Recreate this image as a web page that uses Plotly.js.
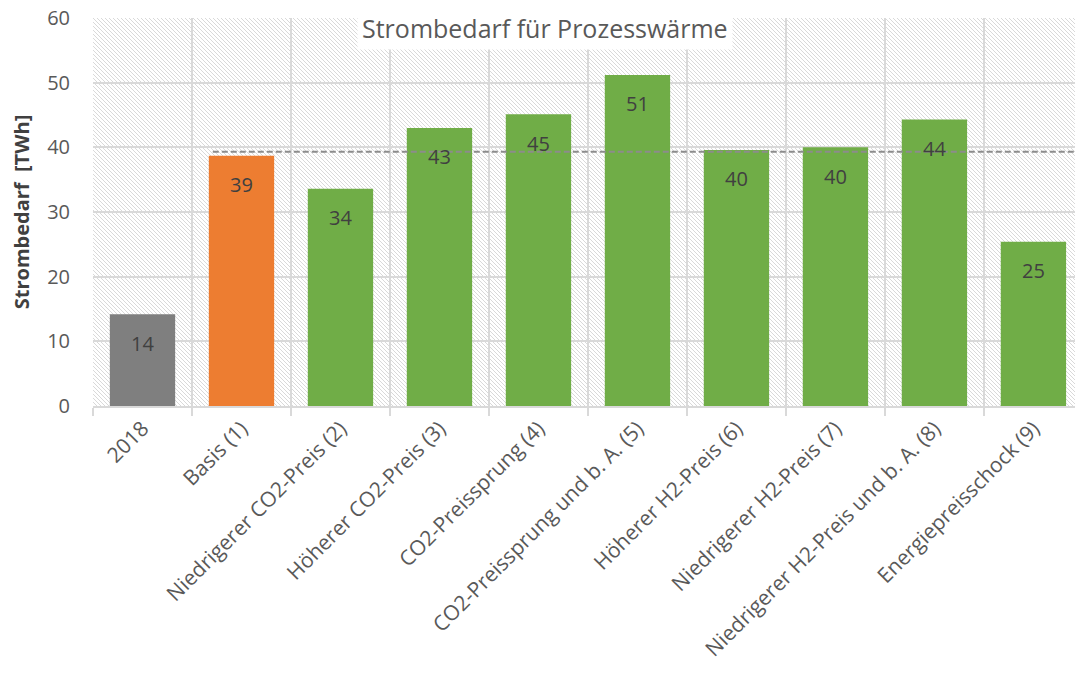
<!DOCTYPE html>
<html>
<head>
<meta charset="utf-8">
<script src="https://cdn.plot.ly/plotly-3.0.1.min.js"></script>
<style>html,body{margin:0;padding:0;background:#fff;}#chart{width:1075px;height:682px;}</style>
</head>
<body>
<div id="chart"></div>
<script>
// ---- data ----
var categories = ["2018", "Basis (1)", "Niedrigerer CO2-Preis (2)", "Höherer CO2-Preis (3)",
  "CO2-Preissprung (4)", "CO2-Preissprung und b. A. (5)", "Höherer H2-Preis (6)",
  "Niedrigerer H2-Preis (7)", "Niedrigerer H2-Preis und b. A. (8)", "Energiepreisschock (9)"];
var values = [14.2, 38.7, 33.6, 43.0, 45.1, 51.2, 39.6, 40.0, 44.3, 25.4];
var barColors = ["#7f7f7f", "#ed7d31", "#70ad47", "#70ad47", "#70ad47", "#70ad47", "#70ad47", "#70ad47", "#70ad47", "#70ad47"];
var referenceLevel = 39.3;   // dashed Basis reference line
var yTicks = [0, 10, 20, 30, 40, 50, 60];
var chartTitle = "Strombedarf für Prozesswärme";
var yTitle = "Strombedarf  [TWh]";

// ---- layout geometry ----
var W = 1075, H = 682;
var mL = 93, mR = 0, mT = 18, mB = 276;
var pw = W - mL - mR, ph = H - mT - mB;
var FONT = "Open Sans, Noto Sans, sans-serif";

// hatch pattern path (decoration) in paper coords
var step = 4, path = "";
for (var c = -ph; c <= pw; c += step) {
  var ya = Math.max(0, -c), yb = Math.min(ph, pw - c);
  if (yb <= ya) continue;
  var xa = ya + c, xb = yb + c;
  path += "M" + (xa / pw).toFixed(5) + "," + (1 - ya / ph).toFixed(5) +
          "L" + (xb / pw).toFixed(5) + "," + (1 - yb / ph).toFixed(5);
}

var shapes = [
  {type: "path", xref: "paper", yref: "paper", path: path, layer: "below",
   line: {color: "#d9d9d9", width: 1}},
  {type: "line", xref: "x", yref: "y", x0: 0.71, x1: 9.42, y0: referenceLevel, y1: referenceLevel,
   layer: "above", line: {color: "#8c8c8c", width: 2, dash: "6px,3px"}}
];

var annotations = values.map(function (v, i) {
  return {x: i, y: v, xref: "x", yref: "y", text: String(Math.round(v)),
          showarrow: false, yshift: -29, font: {family: FONT, size: 20, color: "#404040"}};
});
annotations.push({
  text: chartTitle, xref: "paper", yref: "paper", x: (545 - mL) / pw, y: 1 + (mT - 28) / ph,
  xanchor: "center", yanchor: "middle", showarrow: false, bgcolor: "#ffffff", borderpad: 4,
  font: {family: FONT, size: 25, color: "#595959"}
});

var trace = {
  type: "bar", x: categories, y: values, width: 0.66,
  marker: {color: barColors, line: {width: 0}},
  hoverinfo: "x+y"
};

var layout = {
  width: W, height: H,
  margin: {l: mL, r: mR, t: mT, b: mB, pad: 0},
  paper_bgcolor: "#ffffff", plot_bgcolor: "#ffffff",
  showlegend: false,
  font: {family: FONT, color: "#595959"},
  xaxis: {
    type: "category", range: [-0.5, 9.42], tickson: "boundaries",
    showgrid: true, gridcolor: "#d9d9d9", gridwidth: 2,
    showline: true, linecolor: "#d9d9d9", linewidth: 2,
    ticks: "outside", ticklen: 8, tickwidth: 2, tickcolor: "#d9d9d9",
    tickangle: -45, tickfont: {family: FONT, size: 21, color: "#595959"},
    zeroline: false, fixedrange: true
  },
  yaxis: {
    range: [0, 60], tickvals: yTicks, ticktext: yTicks.map(String),
    showgrid: true, gridcolor: "#d9d9d9", gridwidth: 2,
    zeroline: false, showline: false, ticks: "", ticklabelstandoff: 22,
    tickfont: {family: FONT, size: 20, color: "#595959"},
    title: {text: yTitle, standoff: 12, font: {family: FONT, size: 20, color: "#404040", weight: "bold"}},
    fixedrange: true
  },
  shapes: shapes,
  annotations: annotations
};

Plotly.newPlot("chart", [trace], layout, {displayModeBar: false, staticPlot: true});
</script>
</body>
</html>
